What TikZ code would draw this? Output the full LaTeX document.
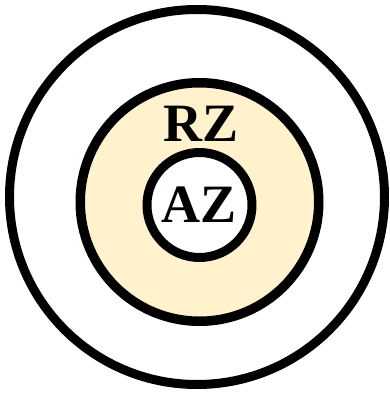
\documentclass[tikz,border=0pt]{standalone}
\usepackage{fontspec}
\setmainfont{Liberation Serif}
\definecolor{rzfill}{HTML}{FFF2CC}
\begin{document}
\begin{tikzpicture}[x=1pt, y=-1pt, line join=round, line cap=round,
	zone/.style={circle, draw=black, line width=9.5pt, inner sep=0pt},
	lbl/.style={font=\bfseries\fontsize{54}{54}\selectfont, inner sep=0pt}]
	\useasboundingbox (0,0) rectangle (390,394);
	
	% Vòng ngoài
	\node[zone, line width=9pt, minimum size=375pt] (outer) at (197,197) {};
	
	% Vùng RZ (tô màu)
	\node[zone, fill=rzfill, minimum size=238.5pt] (rz) at (199.5,202) {};
	\node[lbl] (rzlbl) at (201.5,124) {RZ};
	
	% Vùng AZ ở giữa
	\node[zone, fill=white, minimum size=105pt, lbl, line width=9pt] (az) at (199.5,205) {AZ};
\end{tikzpicture}
\end{document}
